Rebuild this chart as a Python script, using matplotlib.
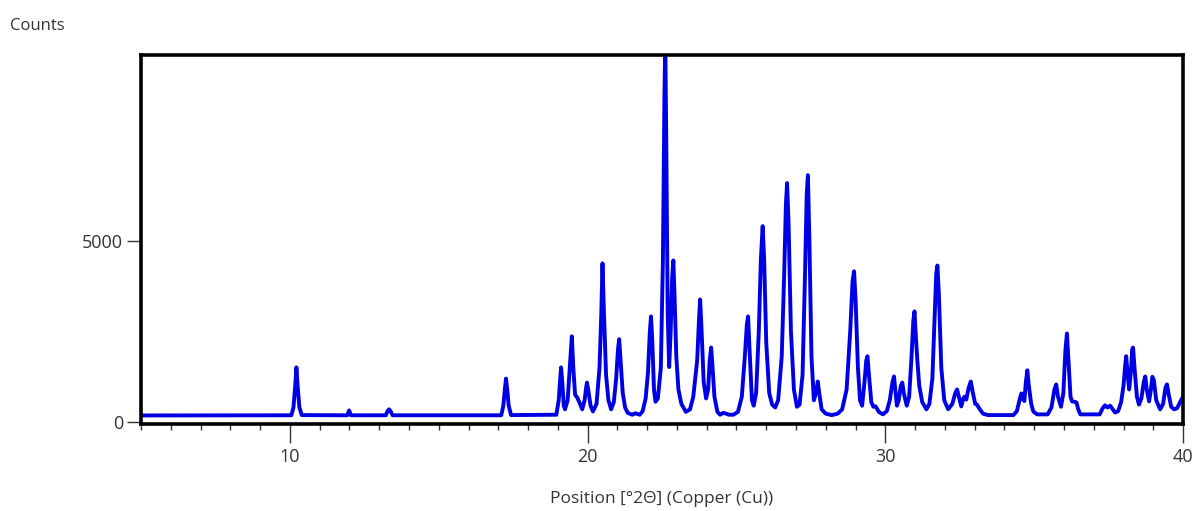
import matplotlib.pyplot as plt

plt.rcParams['font.family'] = ['Open Sans', 'DejaVu Sans']

# Diffractogram: position [deg 2theta] and counts
two_theta = [
    5.0, 10.05, 10.12, 10.18, 10.22, 10.26, 10.32, 10.40,
    11.93, 11.99, 12.05,
    13.22, 13.28, 13.33, 13.38, 13.45,
    17.10, 17.17, 17.22, 17.26, 17.30, 17.35, 17.43,
    18.95, 19.03, 19.08, 19.11, 19.15, 19.20, 19.24,
    19.33, 19.40, 19.47, 19.52, 19.58, 19.65, 19.72, 19.82,
    19.90, 19.95, 19.98, 20.02, 20.10, 20.18,
    20.30, 20.40, 20.46, 20.50, 20.55, 20.62, 20.70, 20.79,
    20.88, 20.96, 21.02, 21.06, 21.10, 21.18, 21.26, 21.35,
    21.50, 21.60, 21.75, 21.85, 21.95, 22.03, 22.09, 22.13,
    22.17, 22.23, 22.28, 22.36, 22.46, 22.53, 22.58, 22.61,
    22.64, 22.69, 22.74, 22.79, 22.84, 22.88, 22.92, 22.98,
    23.05, 23.15, 23.30, 23.44, 23.55, 23.68, 23.74, 23.78,
    23.83, 23.90, 23.98, 24.05, 24.10, 24.15, 24.19, 24.26,
    24.36, 24.45, 24.55, 24.62, 24.75, 24.90, 25.05, 25.18,
    25.28, 25.35, 25.39, 25.44, 25.52, 25.58, 25.66, 25.75,
    25.82, 25.88, 25.93, 26.00, 26.10, 26.20, 26.30, 26.40,
    26.52, 26.60, 26.66, 26.70, 26.75, 26.83, 26.93, 27.03,
    27.12, 27.22, 27.30, 27.36, 27.40, 27.45, 27.52, 27.60,
    27.67, 27.73, 27.78, 27.86, 28.00, 28.20, 28.40, 28.55,
    28.70, 28.82, 28.90, 28.95, 29.00, 29.08, 29.15, 29.22,
    29.30, 29.36, 29.40, 29.45, 29.53, 29.60, 29.68, 29.78,
    29.92, 30.05, 30.15, 30.24, 30.29, 30.34, 30.39, 30.45,
    30.52, 30.57, 30.62, 30.72, 30.80, 30.88, 30.94, 30.98,
    31.03, 31.08, 31.14, 31.24, 31.38, 31.48, 31.58, 31.66,
    31.71, 31.75, 31.80, 31.88, 31.98, 32.11, 32.25, 32.35,
    32.41, 32.47, 32.55, 32.62, 32.66, 32.72, 32.80, 32.87,
    32.93, 33.02, 33.08, 33.15, 33.28, 33.45,
    34.30, 34.42, 34.52, 34.57, 34.63, 34.67, 34.72, 34.77,
    34.82, 34.90, 34.97, 35.10, 35.45, 35.58, 35.68, 35.74,
    35.80, 35.90, 35.98, 36.05, 36.10, 36.15, 36.22, 36.27,
    36.35, 36.42, 36.48, 36.55, 37.20, 37.30, 37.38, 37.46,
    37.55, 37.64, 37.72, 37.82, 37.92, 38.00, 38.06, 38.09,
    38.14, 38.19, 38.25, 38.29, 38.32, 38.37, 38.45, 38.52,
    38.60, 38.68, 38.73, 38.78, 38.86, 38.92, 38.97, 39.02,
    39.10, 39.23, 39.33, 39.41, 39.46, 39.51, 39.60, 39.70,
    39.80, 39.90, 40.0,
]
counts = [
    180, 185, 400, 1000, 1510, 1000, 400, 190,
    185, 320, 185,
    185, 300, 350, 300, 185,
    185, 450, 900, 1200, 900, 450, 190,
    200, 600, 1200, 1510, 1100, 450, 350,
    600, 1500, 2370, 1500, 750, 680, 550, 350,
    600, 950, 1090, 900, 450, 290,
    500, 1500, 3000, 4390, 3000, 1300, 600, 350,
    550, 1200, 2000, 2290, 1800, 800, 400, 250,
    200, 240, 200, 300, 650, 1400, 2500, 2920,
    2300, 900, 560, 650, 1500, 4500, 9000, 10500,
    8000, 3000, 1520, 2500, 4000, 4470, 3500, 1800,
    900, 500, 280, 350, 700, 1700, 2800, 3390,
    2500, 1100, 650, 900, 1700, 2060, 1600, 700,
    280, 200, 250, 240, 200, 200, 280, 700,
    1800, 2700, 2920, 2000, 600, 450, 800, 2500,
    4500, 5420, 4500, 2200, 800, 480, 400, 600,
    1800, 4000, 6000, 6610, 5500, 2500, 900, 420,
    480, 1300, 4000, 6300, 6830, 5000, 1800, 600,
    800, 1120, 800, 350, 230, 190, 230, 350,
    900, 2500, 3900, 4170, 3400, 1500, 600, 450,
    1100, 1700, 1820, 1300, 550, 420, 430, 280,
    210, 300, 600, 1100, 1260, 850, 450, 600,
    1000, 1090, 800, 450, 700, 1800, 2800, 3060,
    2300, 1650, 1000, 550, 350, 500, 1200, 3000,
    4100, 4330, 3500, 1500, 600, 350, 500, 800,
    900, 700, 430, 650, 700, 620, 950, 1120,
    850, 500, 480, 380, 230, 190,
    190, 300, 650, 790, 620, 580, 1100, 1430,
    1000, 500, 290, 210, 210, 400, 900, 1040,
    700, 420, 800, 2000, 2450, 1700, 700, 570,
    560, 540, 350, 210, 210, 380, 460, 400,
    450, 350, 260, 300, 550, 1000, 1600, 1820,
    1300, 900, 1400, 2000, 2060, 1500, 700, 480,
    650, 1100, 1260, 900, 570, 900, 1250, 1150,
    600, 350, 500, 950, 1040, 800, 420, 350,
    380, 550, 700,
]

x_major = [10, 20, 30, 40]
y_major = [0, 5000]

fig = plt.figure(figsize=(11.95, 5.11), dpi=100)
ax = fig.add_axes([0.118, 0.170, 0.872, 0.722])

ax.plot(two_theta, counts, color="#0000e6", lw=2.8, solid_joinstyle="round")

ax.set_xlim(5, 40)
ax.set_ylim(-60, 10150)
ax.set_xticks(x_major)
ax.set_xticks(range(5, 41), minor=True)
ax.set_yticks(y_major)

for s in ax.spines.values():
    s.set_linewidth(2.6)
    s.set_color("black")

ax.tick_params(axis="x", which="major", length=14, width=1, color="#333333",
               labelsize=13, labelcolor="#333333", pad=3)
ax.tick_params(axis="x", which="minor", length=4, width=1, color="#333333")
ax.tick_params(axis="y", which="major", length=10, width=1, color="#333333",
               labelsize=13, labelcolor="#333333", pad=3)

ax.set_xlabel("Position [°2Θ] (Copper (Cu))", fontsize=12.5, color="#333333", labelpad=18)
fig.text(0.008, 0.95, "Counts", fontsize=12, color="#333333", ha="left", va="center")

fig.savefig("out.png", dpi=100)
